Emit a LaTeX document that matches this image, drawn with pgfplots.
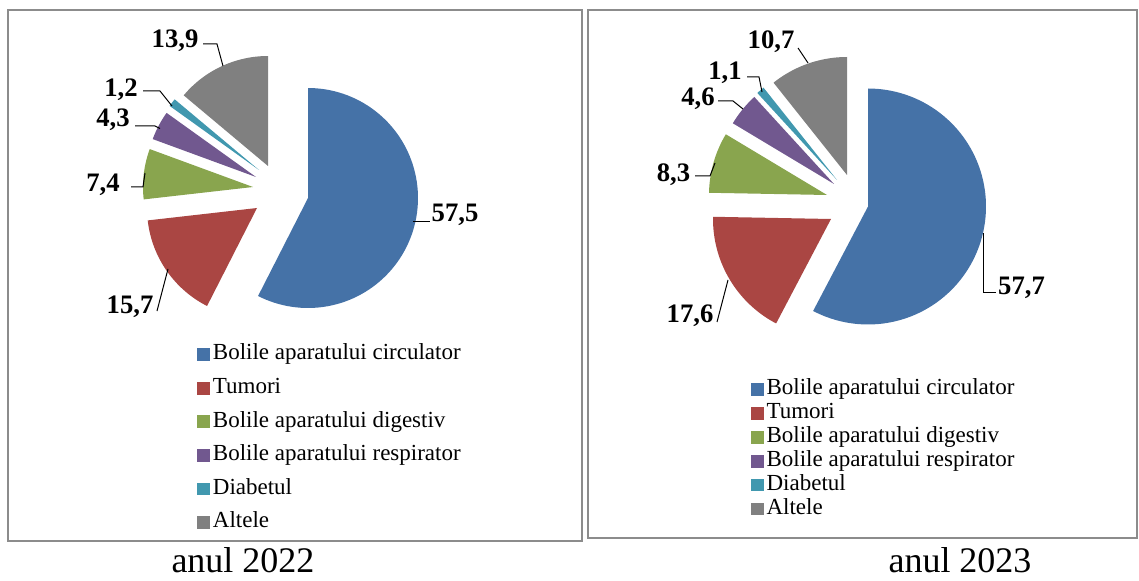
\documentclass[border=0pt]{standalone}
\usepackage{pgfplots}
\pgfplotsset{compat=1.18}
\usepackage{fontspec}
\setmainfont{Liberation Serif}
\definecolor{cblue}{RGB}{69,114,167}
\definecolor{cred}{RGB}{170,70,67}
\definecolor{cgreen}{RGB}{137,165,78}
\definecolor{cpurple}{RGB}{113,88,143}
\definecolor{ccyan}{RGB}{65,152,175}
\definecolor{cgray}{RGB}{128,128,128}
\definecolor{cframe}{RGB}{140,140,140}
\newcommand\lblfont{\fontsize{20}{24}\selectfont\bfseries}
\newcommand\legfont{\fontsize{17.25}{20}\selectfont}
\newcommand\capfont{\fontsize{27}{32}\selectfont}
% slice: apex x, apex y, radius, cumulative share before (%), share (%), colour
\newcommand\slice[6]{%
  \pgfmathsetmacro\aS{90-3.6*(#4+#5)}%
  \pgfmathsetmacro\aE{90-3.6*(#4)}%
  \edef\tmp{\noexpand\addplot[fill=#6, draw=none, domain=\aS:\aE, samples=90, variable=\noexpand\t]
    ({#1+#3*cos(\noexpand\t)}, {#2-#3*sin(\noexpand\t)}) -- (#1,#2) -- cycle;}%
  \tmp}
\pgfplotsset{
  pieaxis/.style={
    at={(0,0)}, anchor=south west,
    width=854.25pt, height=435.75pt, scale only axis,
    xmin=0, xmax=1139, ymin=0, ymax=581, y dir=reverse,
    hide axis, clip=false,
    legend cell align=left,
    legend image code/.code={\fill[##1] (0pt,-4.75pt) rectangle (9.5pt,4.75pt);},
  }
}
\begin{document}
\begin{tikzpicture}
\path[use as bounding box] (0,0) rectangle (854.25pt,435.75pt);
% ---------------- 2022 ----------------
\begin{axis}[pieaxis,
  legend style={at={(0.1695,0.4131)}, anchor=north west, draw=none, fill=none,
    font=\legfont, row sep=9.2pt, column sep=2.2pt,
    nodes={inner sep=0pt, text height=12pt, text depth=4pt}},
]
\slice{308}{198}{110}{0}{57.5}{cblue}
\slice{257}{208}{110}{57.5}{15.7}{cred}
\slice{253}{187}{110}{73.2}{7.4}{cgreen}
\slice{256}{177}{110}{80.6}{4.3}{cpurple}
\slice{259}{170}{110}{84.9}{1.2}{ccyan}
\slice{268}{166}{110}{86.1}{13.9}{cgray}
\legend{Bolile aparatului circulator, Tumori, Bolile aparatului digestiv, Bolile aparatului respirator, Diabetul, Altele}
\draw[cframe, line width=1.5pt] (axis cs:8,10) rectangle (axis cs:582,541);
\draw[cframe, line width=1.5pt] (axis cs:588,10) rectangle (axis cs:1137,538);
\node[font=\capfont, anchor=base, inner sep=0pt] at (axis cs:243,572) {anul 2022};
\node[font=\capfont, anchor=base, inner sep=0pt] at (axis cs:960,572) {anul 2023};
% labels 2022
\node[font=\lblfont, anchor=base] at (axis cs:455,222) {57,5};
\node[font=\lblfont, anchor=base] at (axis cs:130,313) {15,7};
\node[font=\lblfont, anchor=base] at (axis cs:103,192) {7,4};
\node[font=\lblfont, anchor=base] at (axis cs:113,127) {4,3};
\node[font=\lblfont, anchor=base] at (axis cs:121,97) {1,2};
\node[font=\lblfont, anchor=base] at (axis cs:175,48) {13,9};
\draw[line width=0.75pt] (axis cs:413,222) -- (axis cs:430,222);
\draw[line width=0.75pt] (axis cs:157,311) -- (axis cs:168,269);
\draw[line width=0.75pt] (axis cs:131,187) -- (axis cs:143,187) -- (axis cs:145,173);
\draw[line width=0.75pt] (axis cs:135,126) -- (axis cs:155,126) -- (axis cs:160,128.5);
\draw[line width=0.75pt] (axis cs:143,91) -- (axis cs:160,91) -- (axis cs:172,106);
\draw[line width=0.75pt] (axis cs:203,44) -- (axis cs:217,44) -- (axis cs:223,66);
\end{axis}
% ---------------- 2023 ----------------
\begin{axis}[pieaxis,
  legend style={at={(0.6556,0.3528)}, anchor=north west, draw=none, fill=none,
    font=\legfont, row sep=1.9pt, column sep=2.2pt,
    nodes={inner sep=0pt, text height=12pt, text depth=4pt}},
]
\slice{868}{206.5}{118}{0}{57.7}{cblue}
\slice{831}{219}{118}{57.7}{17.6}{cred}
\slice{827}{195}{118}{75.3}{8.3}{cgreen}
\slice{834}{184}{118}{83.6}{4.6}{cpurple}
\slice{837}{180}{118}{88.2}{1.1}{ccyan}
\slice{847}{175}{118}{89.3}{10.7}{cgray}
\legend{Bolile aparatului circulator, Tumori, Bolile aparatului digestiv, Bolile aparatului respirator, Diabetul, Altele}
% labels 2023
\node[font=\lblfont, anchor=base] at (axis cs:1021.5,295) {57,7};
\node[font=\lblfont, anchor=base] at (axis cs:690,322.7) {17,6};
\node[font=\lblfont, anchor=base] at (axis cs:673.5,181.7) {8,3};
\node[font=\lblfont, anchor=base] at (axis cs:698,106) {4,6};
\node[font=\lblfont, anchor=base] at (axis cs:725,80) {1,1};
\node[font=\lblfont, anchor=base] at (axis cs:771,49) {10,7};
\draw[line width=0.75pt] (axis cs:983,233) -- (axis cs:983,293) -- (axis cs:996,293);
\draw[line width=0.75pt] (axis cs:717,322) -- (axis cs:728,280);
\draw[line width=0.75pt] (axis cs:695,176) -- (axis cs:710,176) -- (axis cs:715,163);
\draw[line width=0.75pt] (axis cs:718,101) -- (axis cs:733,101) -- (axis cs:743,109);
\draw[line width=0.75pt] (axis cs:747,77) -- (axis cs:759,77) -- (axis cs:762,92);
\draw[line width=0.75pt] (axis cs:798,48) -- (axis cs:808,63);
\end{axis}
\end{tikzpicture}
\end{document}
